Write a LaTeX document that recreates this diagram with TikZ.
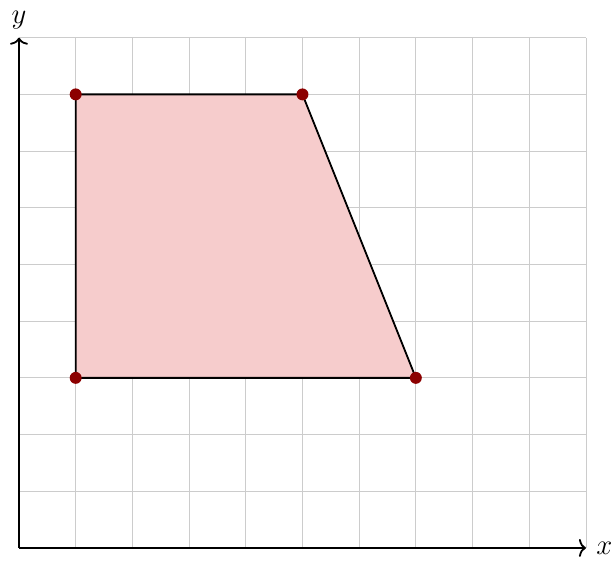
\documentclass[tikz,border=0pt]{standalone}
\usepackage{amsmath}
\usetikzlibrary{arrows.meta}
\definecolor{shadepink}{RGB}{246,204,204}
\tikzset{
  gridline/.style={gray!40, thin},
  axisline/.style={line width=0.9pt, -{To[length=3.5pt, width=9pt]}},
  edgeline/.style={line width=0.9pt},
  vertexdot/.style={circle, fill=red!55!black, inner sep=0pt, minimum size=6pt},
}

\begin{document}
\begin{tikzpicture}[x=1cm,y=1cm]
\useasboundingbox (-0.335,-0.265) rectangle (10.46,9.665);
\draw[gridline] (0,0) grid (10,9);
\coordinate (O) at (0,0);
\coordinate (xend) at (10,0);
\coordinate (yend) at (0,9);
\draw[axisline] (O) -- (xend);
\draw[axisline] (O) -- (yend);
\node[anchor=west, inner sep=5pt] (xlabel) at (xend) {\Large$x$};
\node[anchor=south, inner sep=4pt] (ylabel) at (yend) {\Large$y$};
\coordinate (A) at (1,3);
\coordinate (B) at (7,3);
\coordinate (C) at (5,8);
\coordinate (D) at (1,8);
\fill[shadepink] (A) -- (B) -- (C) -- (D) -- cycle;
\draw[edgeline] (A) -- (B) -- (C) -- (D) -- cycle;
\node[vertexdot] (pA) at (A) {};
\node[vertexdot] (pB) at (B) {};
\node[vertexdot] (pC) at (C) {};
\node[vertexdot] (pD) at (D) {};
\end{tikzpicture}
\end{document}
